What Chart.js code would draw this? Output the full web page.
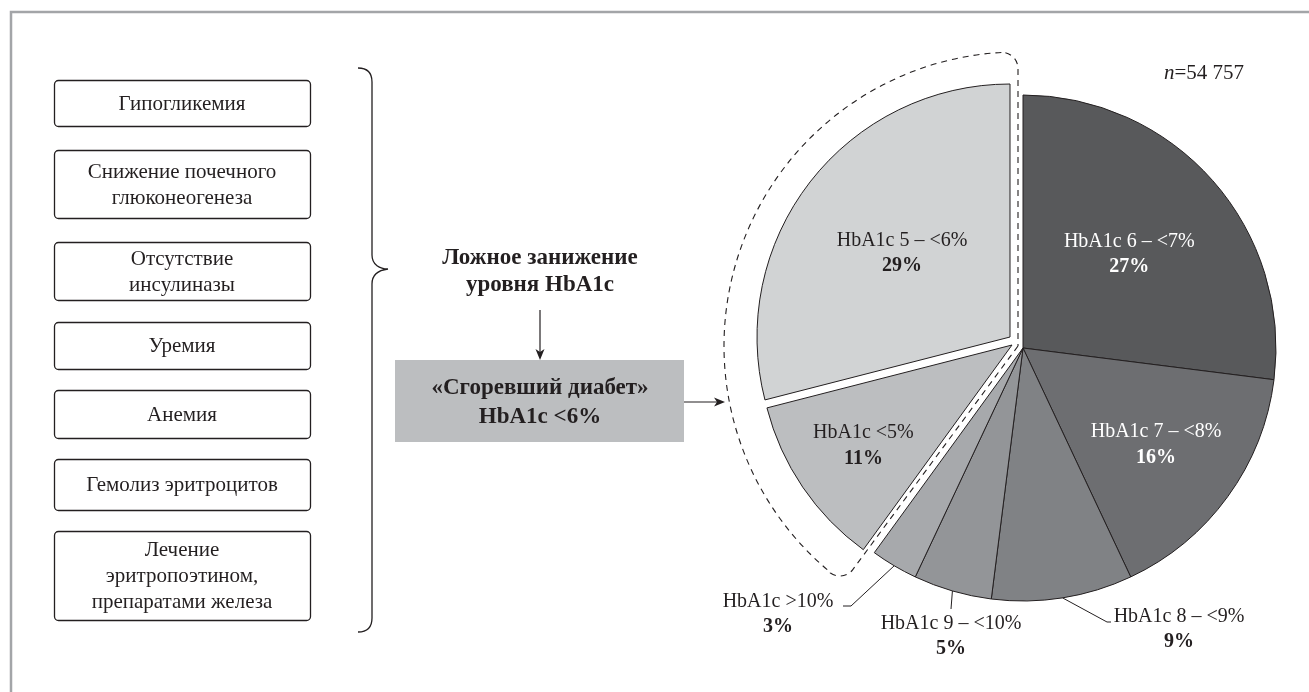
<!DOCTYPE html>
<html>
<head>
<meta charset="utf-8">
<script src="https://cdn.jsdelivr.net/npm/chart.js@4.4.1/dist/chart.umd.min.js"></script>
<style>
  html, body { margin: 0; padding: 0; background: #ffffff; }
  canvas { display: block; }
</style>
</head>
<body>
<canvas id="chart" width="1309" height="692"></canvas>
<script>
// HbA1c distribution, clockwise from 12 o'clock
const categories = ['HbA1c 6 – <7%', 'HbA1c 7 – <8%', 'HbA1c 8 – <9%', 'HbA1c 9 – <10%', 'HbA1c >10%', 'HbA1c <5%', 'HbA1c 5 – <6%'];
const shares = [27, 16, 9, 5, 3, 11, 29];
const sampleSize = '54 757';

// Causes of falsely low HbA1c (left column)
const causes = [
  ['Гипогликемия'],
  ['Снижение почечного', 'глюконеогенеза'],
  ['Отсутствие', 'инсулиназы'],
  ['Уремия'],
  ['Анемия'],
  ['Гемолиз эритроцитов'],
  ['Лечение', 'эритропоэтином,', 'препаратами железа']
];
const mechanismText = ['Ложное занижение', 'уровня HbA1c'];
const outcomeText = ['«Сгоревший диабет»', 'HbA1c <6%'];

// ---- styling ----
const INK = '#231f20';
const SERIF = '"Liberation Serif", "Times New Roman", serif';
const sliceColors = ['#58595b', '#6d6e71', '#808285', '#939598', '#a7a9ac', '#bcbec0', '#d1d3d4'];
const labelColors = ['#ffffff', '#ffffff', INK, INK, INK, INK, INK];
const sliceShift = [null, null, null, null, null, [-11, -3], [-13, -11]];
const innerLabelRadius = [0.56, 0.65, null, null, null, 0.71, 0.54];
const outerLabels = {
  2: { at: [1179, 617], leader: [[1107, 622], [1111, 622]] },
  3: { at: [951, 624], leader: [[951, 609]] },
  4: { at: [778, 602], leader: [[851, 606], [843, 606]] }
};
const boxes = [
  [80, 126], [150, 218], [242, 300], [322, 369], [390, 438], [459, 510], [531, 620]
];
const LINE_H = 26;
const BOX_FONT = '21px ' + SERIF;
const LABEL_FONT = '20px ' + SERIF;
const LABEL_BOLD = 'bold 20px ' + SERIF;
const HEAD_BOLD = 'bold 23px ' + SERIF;

function textLines(ctx, lines, x, yFirst, lh) {
  lines.forEach((t, i) => ctx.fillText(t, x, yFirst + i * lh));
}

function roundRect(ctx, x, y, w, h, r) {
  ctx.beginPath();
  ctx.moveTo(x + r, y);
  ctx.arcTo(x + w, y, x + w, y + h, r);
  ctx.arcTo(x + w, y + h, x, y + h, r);
  ctx.arcTo(x, y + h, x, y, r);
  ctx.arcTo(x, y, x + w, y, r);
  ctx.closePath();
}

function arrowHead(ctx, x, y, dir) {
  // dir: 'down' or 'right'; (x, y) is the tip
  ctx.beginPath();
  if (dir === 'down') {
    ctx.moveTo(x, y); ctx.lineTo(x - 4.5, y - 11); ctx.lineTo(x, y - 8); ctx.lineTo(x + 4.5, y - 11);
  } else {
    ctx.moveTo(x, y); ctx.lineTo(x - 11, y - 4.5); ctx.lineTo(x - 8, y); ctx.lineTo(x - 11, y + 4.5);
  }
  ctx.closePath();
  ctx.fill();
}

// left-hand scheme: frame, cause boxes, brace, arrows, highlighted box
const schemePlugin = {
  id: 'scheme',
  beforeDraw(chart) {
    const ctx = chart.ctx;
    ctx.save();
    // outer frame
    ctx.strokeStyle = '#a3a5a8';
    ctx.lineWidth = 2.5;
    ctx.strokeRect(11, 12, 1400, 800);

    // cause boxes
    ctx.strokeStyle = INK;
    ctx.lineWidth = 1.3;
    ctx.fillStyle = INK;
    ctx.font = BOX_FONT;
    ctx.textAlign = 'center';
    ctx.textBaseline = 'middle';
    causes.forEach((lines, i) => {
      const [top, bottom] = boxes[i];
      roundRect(ctx, 54.5, top + 0.5, 256, bottom - top, 4);
      ctx.stroke();
      const mid = (top + bottom) / 2 + 1;
      textLines(ctx, lines, 182, mid - (lines.length - 1) * LINE_H / 2, LINE_H);
    });

    // brace
    ctx.lineWidth = 1.3;
    ctx.beginPath();
    ctx.moveTo(358, 68);
    ctx.bezierCurveTo(366, 68, 372, 72, 372, 82);
    ctx.lineTo(372, 255);
    ctx.bezierCurveTo(372, 265, 380, 269, 388, 269);
    ctx.bezierCurveTo(380, 270, 372, 274, 372, 284);
    ctx.lineTo(372, 618);
    ctx.bezierCurveTo(372, 628, 366, 632, 358, 632);
    ctx.stroke();

    // mechanism text
    ctx.font = HEAD_BOLD;
    textLines(ctx, mechanismText, 540, 258, 27);

    // arrow down
    ctx.lineWidth = 1.2;
    ctx.beginPath();
    ctx.moveTo(540, 310);
    ctx.lineTo(540, 352);
    ctx.stroke();
    arrowHead(ctx, 540, 360, 'down');

    // highlighted outcome box
    ctx.fillStyle = '#bcbec0';
    ctx.fillRect(395, 360, 289, 82);
    ctx.fillStyle = INK;
    ctx.font = HEAD_BOLD;
    textLines(ctx, outcomeText, 540, 388, 29);

    // arrow right
    ctx.beginPath();
    ctx.moveTo(684, 402);
    ctx.lineTo(718, 402);
    ctx.stroke();
    arrowHead(ctx, 725, 402, 'right');
    ctx.restore();
  }
};

// pulls the low-HbA1c slices out of the pie
const shiftPlugin = {
  id: 'sliceShift',
  afterUpdate(chart) {
    chart.getDatasetMeta(0).data.forEach((arc, i) => {
      const s = sliceShift[i];
      if (!s || arc.$shifted) return;
      const draw = arc.draw.bind(arc);
      arc.draw = (ctx, area) => {
        ctx.save();
        ctx.translate(s[0], s[1]);
        draw(ctx, area);
        ctx.restore();
      };
      arc.$shifted = true;
    });
  }
};

// slice labels, leaders, dashed outline of the <6% group, sample size
const labelPlugin = {
  id: 'sliceLabels',
  afterDatasetsDraw(chart) {
    const ctx = chart.ctx;
    const arcs = chart.getDatasetMeta(0).data;
    ctx.save();
    ctx.textAlign = 'center';
    ctx.textBaseline = 'middle';

    arcs.forEach((arc, i) => {
      const { x, y, startAngle, endAngle, outerRadius } = arc.getProps(['x', 'y', 'startAngle', 'endAngle', 'outerRadius'], true);
      const mid = (startAngle + endAngle) / 2;
      const s = sliceShift[i] || [0, 0];
      const name = categories[i];
      const pct = shares[i] + '%';
      if (innerLabelRadius[i]) {
        const r = outerRadius * innerLabelRadius[i];
        const lx = x + s[0] + Math.cos(mid) * r;
        const ly = y + s[1] + Math.sin(mid) * r;
        ctx.fillStyle = labelColors[i];
        ctx.font = LABEL_FONT;
        ctx.fillText(name, lx, ly - 13);
        ctx.font = LABEL_BOLD;
        ctx.fillText(pct, lx, ly + 13);
      } else if (outerLabels[i]) {
        const o = outerLabels[i];
        ctx.strokeStyle = INK;
        ctx.lineWidth = 1;
        ctx.beginPath();
        ctx.moveTo(x + Math.cos(mid) * outerRadius, y + Math.sin(mid) * outerRadius);
        o.leader.forEach(p => ctx.lineTo(p[0], p[1]));
        ctx.stroke();
        ctx.fillStyle = INK;
        ctx.font = LABEL_FONT;
        ctx.fillText(name, o.at[0], o.at[1]);
        ctx.font = LABEL_BOLD;
        ctx.fillText(pct, o.at[0], o.at[1] + 25);
      }
    });

    // dashed outline around the HbA1c <6% sectors
    const c = arcs[0];
    const cx = c.x - 5, cy = c.y - 2, R = 294, rc = 16;
    const a1 = arcs[4].endAngle + 0.008;
    const a2 = arcs[6].endAngle;
    const A = [cx + R * Math.cos(a1), cy + R * Math.sin(a1)];
    const B = [cx + R * Math.cos(a2), cy + R * Math.sin(a2)];
    ctx.strokeStyle = INK;
    ctx.lineWidth = 1.1;
    ctx.setLineDash([6, 5]);
    ctx.beginPath();
    ctx.moveTo(cx, cy);
    ctx.arcTo(A[0], A[1], A[0] - Math.sin(a1) * 60, A[1] + Math.cos(a1) * 60, rc);
    ctx.arc(cx, cy, R, a1 + rc / R, a2 - rc / R);
    ctx.arcTo(B[0], B[1], cx, cy, rc);
    ctx.lineTo(cx, cy);
    ctx.stroke();
    ctx.setLineDash([]);

    // sample size
    ctx.textAlign = 'left';
    ctx.fillStyle = INK;
    ctx.font = 'italic 21px ' + SERIF;
    ctx.fillText('n', 1164, 73);
    const w = ctx.measureText('n').width;
    ctx.font = '21px ' + SERIF;
    ctx.fillText('=' + sampleSize, 1164 + w, 73);
    ctx.restore();
  }
};

Chart.defaults.font.family = SERIF;

new Chart(document.getElementById('chart'), {
  type: 'pie',
  data: {
    labels: categories,
    datasets: [{
      data: shares,
      backgroundColor: sliceColors,
      borderColor: INK,
      borderWidth: 1
    }]
  },
  options: {
    responsive: false,
    devicePixelRatio: 1,
    animation: false,
    radius: 253,
    layout: { padding: { left: 760, right: 23, top: 85, bottom: 81 } },
    plugins: {
      legend: { display: false },
      tooltip: { enabled: false }
    }
  },
  plugins: [schemePlugin, shiftPlugin, labelPlugin]
});
</script>
</body>
</html>
